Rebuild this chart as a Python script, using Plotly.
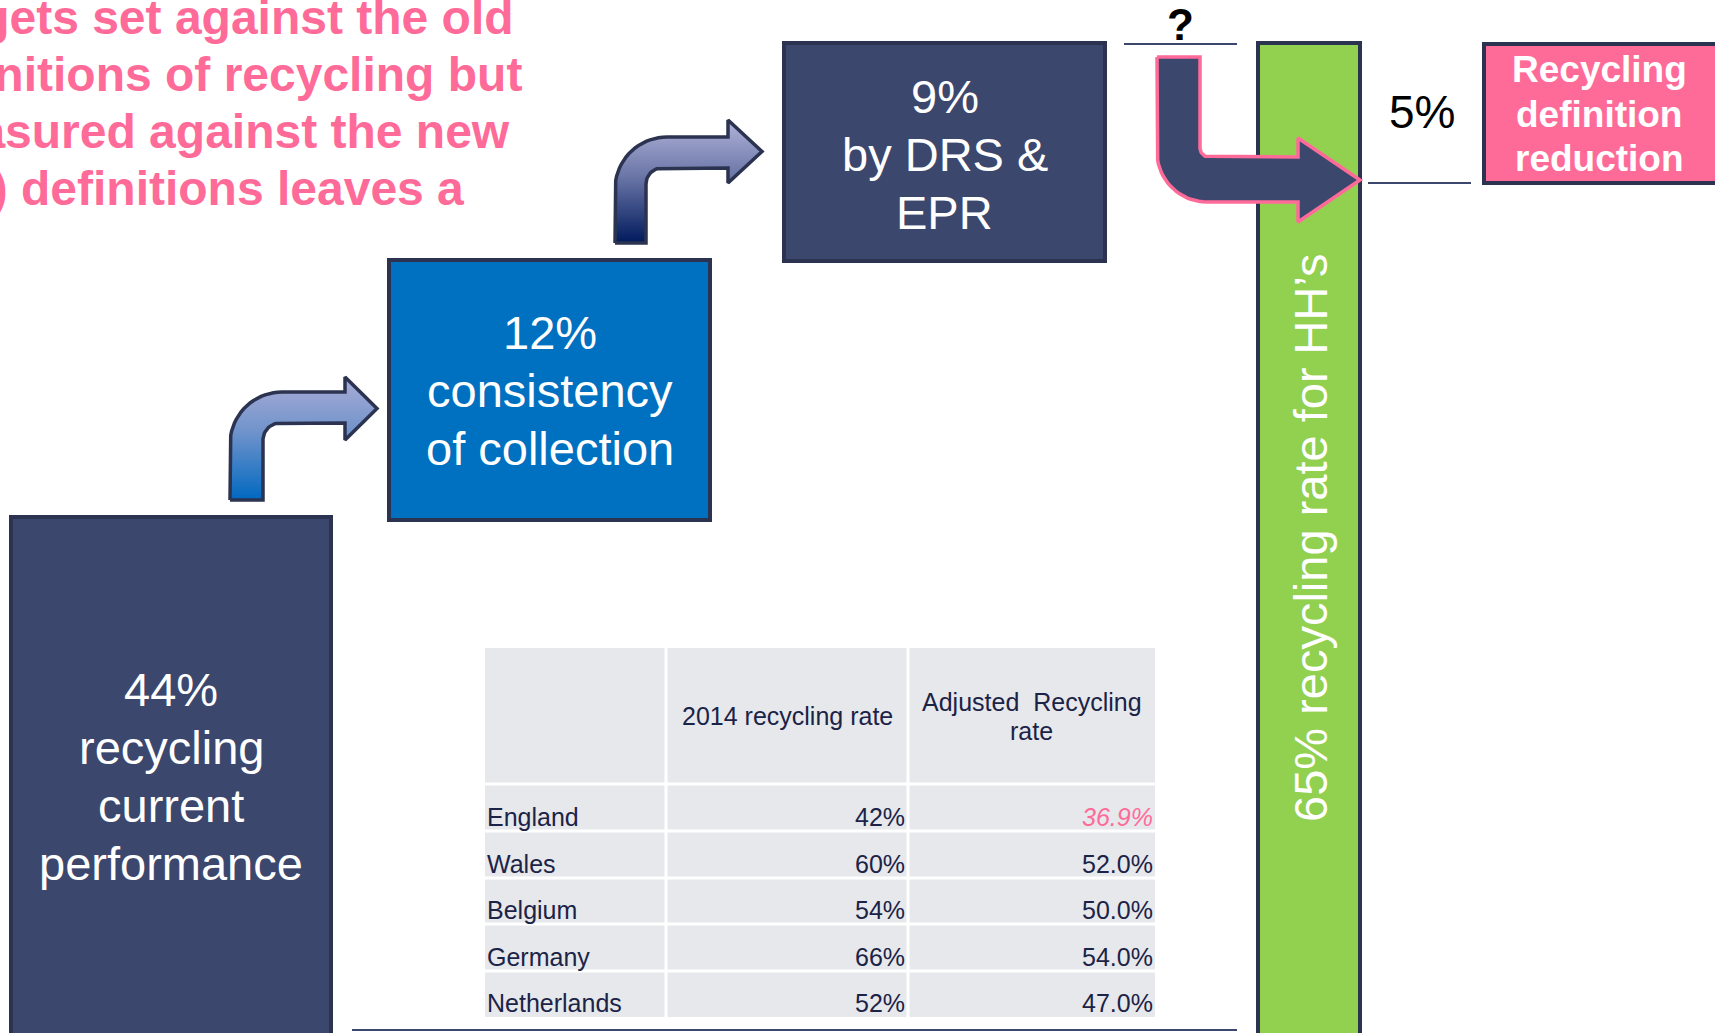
import numpy as np
import plotly.graph_objects as go

W, H = 1715, 1033

# ---------------- data ----------------
title_lines = ["Targets set against the old",
               "definitions of recycling but",
               "measured against the new",
               "(EU) definitions leaves a"]
stage_values = [44, 12, 9]
stage_texts = [["recycling", "current", "performance"],
               ["consistency", "of collection"],
               ["by DRS &", "EPR"]]
target_value = 65
target_text = "recycling rate for HH\u2019s"
gap_label = "?"
reduction_value = 5
reduction_lines = ["Recycling", "definition", "reduction"]
table_headers = ["", "2014 recycling rate", "Adjusted  Recycling<br>rate"]
countries = ["England", "Wales", "Belgium", "Germany", "Netherlands"]
rate_2014 = [42, 60, 54, 66, 52]
rate_adjusted = [36.9, 52.0, 50.0, 54.0, 47.0]

# ---------------- style ----------------
NAVY = "#3C476E"
BORDER = "#2B3350"
BLUE = "#0070C0"
GREEN = "#92D050"
PINK = "#FF6B99"
TEXT_DARK = "#1B2347"
GRAY = "#E7E8EB"
FONT = "Liberation Sans, Arial, sans-serif"

fig = go.Figure()
shapes = []
annotations = []


def rect(x0, y0, x1, y1, fill, lw=4, lc=BORDER):
    shapes.append(dict(type="rect", xref="x", yref="y", x0=x0, y0=y0, x1=x1, y1=y1,
                       fillcolor=fill, line=dict(color=lc, width=lw), layer="below"))


def line(x0, y0, x1, y1, color=NAVY, width=2):
    shapes.append(dict(type="line", xref="x", yref="y", x0=x0, y0=y0, x1=x1, y1=y1,
                       line=dict(color=color, width=width), layer="below"))


def text(x, y, s, size, color="white", bold=False, xanchor="center", angle=0, xref="x"):
    if bold:
        s = "<b>" + s + "</b>"
    annotations.append(dict(x=x, y=y, xref=xref, yref="y", text=s, showarrow=False,
                            xanchor=xanchor, yanchor="middle", textangle=angle,
                            font=dict(family=FONT, size=size, color=color)))


def stacked(cx, cy, lines, size, spacing, color="white", bold=False):
    n = len(lines)
    for i, s in enumerate(lines):
        text(cx, cy + (i - (n - 1) / 2) * spacing, s, size, color, bold)


def arc(cx, cy, r, a0, a1, n=20):
    a = np.radians(np.linspace(a0, a1, n))
    return list(cx + r * np.cos(a)), list(cy + r * np.sin(a))


def bent_up_arrow(sx0, sx1, ybot, bt, bb, hx, hy0, hy1, tip, ro, ri):
    xs, ys = [sx0, sx0], [ybot, bt + ro]
    ax, ay = arc(sx0 + ro, bt + ro, ro, 180, 270)
    xs += ax; ys += ay
    xs += [hx, hx, tip, hx, hx]
    ys += [bt, hy0, (hy0 + hy1) / 2, hy1, bb]
    ax, ay = arc(sx1 + ri, bb + ri, ri, 270, 180)
    xs += ax; ys += ay
    xs += [sx1, sx0]; ys += [ybot, ybot]
    return xs, ys


def down_right_arrow(sx0, sx1, ytop, bt, bb, hx, hy0, hy1, tip, ro, ri):
    xs, ys = [sx0, sx0], [ytop, bb - ro]
    ax, ay = arc(sx0 + ro, bb - ro, ro, 180, 90)
    xs += ax; ys += ay
    xs += [hx, hx, tip, hx, hx]
    ys += [bb, hy1, (hy0 + hy1) / 2, hy0, bt]
    ax, ay = arc(sx1 + ri, bt - ri, ri, 90, 180)
    xs += ax; ys += ay
    xs += [sx1, sx0]; ys += [ytop, ytop]
    return xs, ys


# ---------------- title (clipped at left, as in the original slide) ----------------
for i, s in enumerate(title_lines):
    text(-93 / W, 17 + 57.3 * i, s, 48, PINK, bold=True, xanchor="left", xref="paper")

# ---------------- stage boxes ----------------
box_geo = [(11, 517, 331, 1045, NAVY, 776),
           (389, 260, 710, 520, BLUE, 390),
           (784, 43, 1105, 261, NAVY, 154)]
for (x0, y0, x1, y1, fill, cy), v, lines_ in zip(box_geo, stage_values, stage_texts):
    rect(x0, y0, x1, y1, fill)
    stacked((x0 + x1) / 2, cy, [f"{v}%"] + lines_, 47, 58)

# ---------------- target bar ----------------
rect(1258, 43, 1360, 1045, GREEN)
text(1310, 538, f"{target_value}% {target_text}", 47, angle=-90)

# ---------------- reduction box ----------------
rect(1484, 44, 1730, 183, PINK)
stacked(1599, 114, reduction_lines, 37, 44.5, bold=True)
text(1422, 112, f"{reduction_value}%", 46, "black")
line(1368, 183, 1471, 183)

# ---------------- gap marker ----------------
text(1180, 24, gap_label, 44, "black", bold=True)
line(1124, 44, 1237, 44)

# ---------------- bottom line ----------------
line(352, 1030, 1237, 1030)

# ---------------- table ----------------
col_edges = [485, 666, 908, 1155]
row_edges = [648, 784, 831, 878, 924, 971, 1017]
rect(col_edges[0], row_edges[0], col_edges[-1], row_edges[-1], GRAY, lw=0)
for xe in col_edges[1:-1]:
    line(xe, row_edges[0], xe, row_edges[-1], "white", 3)
for ye in row_edges[1:-1]:
    line(col_edges[0], ye, col_edges[-1], ye, "white", 3)

text((col_edges[1] + col_edges[2]) / 2, 716, table_headers[1], 25, TEXT_DARK)
hdr = table_headers[2].split("<br>")
stacked((col_edges[2] + col_edges[3]) / 2, 716, hdr, 25, 29, TEXT_DARK)

for i, (c, a, b) in enumerate(zip(countries, rate_2014, rate_adjusted)):
    cy = (row_edges[i + 1] + row_edges[i + 2]) / 2 + 9
    text(col_edges[0], cy, c, 25, TEXT_DARK, xanchor="left")
    text(col_edges[2] - 1, cy, f"{a}%", 25, TEXT_DARK, xanchor="right")
    if i == 0:
        text(col_edges[3], cy, f"<i>{b:.1f}%</i>", 25, PINK, xanchor="right")
    else:
        text(col_edges[3], cy, f"{b:.1f}%", 25, TEXT_DARK, xanchor="right")

# ---------------- arrows ----------------
xs, ys = bent_up_arrow(230, 263, 500, 392, 423, 345, 377, 440, 377, 52, 17)
fig.add_trace(go.Scatter(x=xs, y=ys, mode="lines", fill="toself",
                         line=dict(color=BORDER, width=3.5),
                         fillgradient=dict(type="vertical", start=377, stop=500,
                                           colorscale=[[0, "#AAACD6"], [0.45, "#6F93CB"], [1, "#0068C0"]]),
                         hoverinfo="skip"))
xs, ys = bent_up_arrow(615, 646, 243, 137, 168, 728, 120, 183, 762, 52, 16)
fig.add_trace(go.Scatter(x=xs, y=ys, mode="lines", fill="toself",
                         line=dict(color=BORDER, width=3.5),
                         fillgradient=dict(type="vertical", start=120, stop=243,
                                           colorscale=[[0, "#B0B3D8"], [0.45, "#6C77A8"], [1, "#001A5C"]]),
                         hoverinfo="skip"))
xs, ys = down_right_arrow(1157, 1200, 57, 157, 202, 1298, 138, 222, 1360, 50, 9)
fig.add_trace(go.Scatter(x=xs, y=ys, mode="lines", fill="toself", fillcolor=NAVY,
                         line=dict(color=PINK, width=3.5), hoverinfo="skip"))

fig.update_layout(
    width=W, height=H, margin=dict(l=0, r=0, t=0, b=0),
    paper_bgcolor="white", plot_bgcolor="white", showlegend=False,
    xaxis=dict(range=[0, W], visible=False, fixedrange=True),
    yaxis=dict(range=[H, 0], visible=False, fixedrange=True),
    shapes=shapes, annotations=annotations, hovermode=False,
)
fig.write_html("out.html", config={"displayModeBar": False},
               post_script="document.body.style.margin='0';document.body.style.overflow='hidden';")
